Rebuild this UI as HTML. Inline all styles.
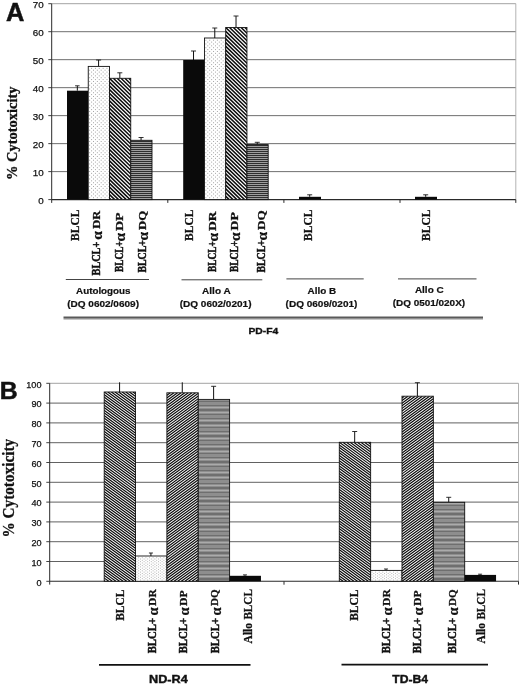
<!DOCTYPE html><html><head><meta charset="utf-8"><title>Cytotoxicity</title>
<style>html,body{margin:0;padding:0;background:#fff}svg{display:block}text{font-family:"Liberation Sans",sans-serif;fill:#111}.s{font-family:"Liberation Serif",serif;font-weight:bold}.b{font-weight:bold}</style></head><body>
<svg width="520" height="684" viewBox="0 0 520 684" style="filter:grayscale(1) blur(0.3px)">
<defs>
</defs>
<rect width="520" height="684" fill="#fff"/>
<line x1="51.7" y1="3.70" x2="515.8" y2="3.70" stroke="#8a8a8a" stroke-width="0.8"/>
<line x1="48.300000000000004" y1="3.70" x2="51.7" y2="3.70" stroke="#2a2a2a" stroke-width="0.9"/>
<text x="43.7" y="7.70" font-size="9.8" text-anchor="end" stroke="#111" stroke-width="0.25">70</text>
<line x1="51.7" y1="31.69" x2="515.8" y2="31.69" stroke="#4a4a4a" stroke-width="0.8"/>
<line x1="48.300000000000004" y1="31.69" x2="51.7" y2="31.69" stroke="#2a2a2a" stroke-width="0.9"/>
<text x="43.7" y="35.69" font-size="9.8" text-anchor="end" stroke="#111" stroke-width="0.25">60</text>
<line x1="51.7" y1="59.67" x2="515.8" y2="59.67" stroke="#4a4a4a" stroke-width="0.8"/>
<line x1="48.300000000000004" y1="59.67" x2="51.7" y2="59.67" stroke="#2a2a2a" stroke-width="0.9"/>
<text x="43.7" y="63.67" font-size="9.8" text-anchor="end" stroke="#111" stroke-width="0.25">50</text>
<line x1="51.7" y1="87.66" x2="515.8" y2="87.66" stroke="#4a4a4a" stroke-width="0.8"/>
<line x1="48.300000000000004" y1="87.66" x2="51.7" y2="87.66" stroke="#2a2a2a" stroke-width="0.9"/>
<text x="43.7" y="91.66" font-size="9.8" text-anchor="end" stroke="#111" stroke-width="0.25">40</text>
<line x1="51.7" y1="115.64" x2="515.8" y2="115.64" stroke="#4a4a4a" stroke-width="0.8"/>
<line x1="48.300000000000004" y1="115.64" x2="51.7" y2="115.64" stroke="#2a2a2a" stroke-width="0.9"/>
<text x="43.7" y="119.64" font-size="9.8" text-anchor="end" stroke="#111" stroke-width="0.25">30</text>
<line x1="51.7" y1="143.63" x2="515.8" y2="143.63" stroke="#4a4a4a" stroke-width="0.8"/>
<line x1="48.300000000000004" y1="143.63" x2="51.7" y2="143.63" stroke="#2a2a2a" stroke-width="0.9"/>
<text x="43.7" y="147.63" font-size="9.8" text-anchor="end" stroke="#111" stroke-width="0.25">20</text>
<line x1="51.7" y1="171.61" x2="515.8" y2="171.61" stroke="#4a4a4a" stroke-width="0.8"/>
<line x1="48.300000000000004" y1="171.61" x2="51.7" y2="171.61" stroke="#2a2a2a" stroke-width="0.9"/>
<text x="43.7" y="175.61" font-size="9.8" text-anchor="end" stroke="#111" stroke-width="0.25">10</text>
<line x1="48.300000000000004" y1="199.60" x2="51.7" y2="199.60" stroke="#2a2a2a" stroke-width="0.9"/>
<text x="43.7" y="203.60" font-size="9.8" text-anchor="end" stroke="#111" stroke-width="0.25">0</text>
<line x1="51.7" y1="3.7" x2="51.7" y2="202.9" stroke="#2a2a2a" stroke-width="1"/>
<line x1="515.8" y1="3.7" x2="515.8" y2="199.6" stroke="#a0a0a0" stroke-width="0.8"/>
<line x1="515.8" y1="199.6" x2="515.8" y2="202.9" stroke="#2a2a2a" stroke-width="1"/>
<line x1="51.7" y1="199.6" x2="515.8" y2="199.6" stroke="#2a2a2a" stroke-width="1.1"/>
<line x1="167.8" y1="199.6" x2="167.8" y2="202.9" stroke="#2a2a2a" stroke-width="1"/>
<line x1="283.9" y1="199.6" x2="283.9" y2="202.9" stroke="#2a2a2a" stroke-width="1"/>
<line x1="400" y1="199.6" x2="400" y2="202.9" stroke="#2a2a2a" stroke-width="1"/>
<line x1="77.33" y1="85.80" x2="77.33" y2="90.70" stroke="#111" stroke-width="1"/>
<line x1="75.08" y1="85.80" x2="79.58" y2="85.80" stroke="#1a1a1a" stroke-width="0.9"/>
<rect x="67.00" y="90.70" width="21.25" height="108.90" fill="#0a0a0a"/>
<line x1="98.58" y1="60.00" x2="98.58" y2="66.40" stroke="#111" stroke-width="1"/>
<line x1="96.08" y1="60.00" x2="101.08" y2="60.00" stroke="#1a1a1a" stroke-width="0.9"/>
<rect x="88.25" y="66.40" width="21.25" height="133.20" fill="#fff"/>
<path d="M89.15,197.72h20.05M89.15,193.97h20.05M89.15,190.22h20.05M89.15,186.47h20.05M89.15,182.72h20.05M89.15,178.97h20.05M89.15,175.22h20.05M89.15,171.47h20.05M89.15,167.72h20.05M89.15,163.97h20.05M89.15,160.22h20.05M89.15,156.47h20.05M89.15,152.72h20.05M89.15,148.97h20.05M89.15,145.22h20.05M89.15,141.47h20.05M89.15,137.72h20.05M89.15,133.97h20.05M89.15,130.22h20.05M89.15,126.47h20.05M89.15,122.72h20.05M89.15,118.97h20.05M89.15,115.22h20.05M89.15,111.47h20.05M89.15,107.72h20.05M89.15,103.97h20.05M89.15,100.22h20.05M89.15,96.47h20.05M89.15,92.72h20.05M89.15,88.97h20.05M89.15,85.22h20.05M89.15,81.47h20.05M89.15,77.72h20.05M89.15,73.97h20.05M89.15,70.22h20.05" stroke="#a4a4a4" stroke-width="1.0" stroke-dasharray="1.0 2.85" fill="none"/>
<path d="M89.15,195.85h20.05M89.15,192.10h20.05M89.15,188.35h20.05M89.15,184.60h20.05M89.15,180.85h20.05M89.15,177.10h20.05M89.15,173.35h20.05M89.15,169.60h20.05M89.15,165.85h20.05M89.15,162.10h20.05M89.15,158.35h20.05M89.15,154.60h20.05M89.15,150.85h20.05M89.15,147.10h20.05M89.15,143.35h20.05M89.15,139.60h20.05M89.15,135.85h20.05M89.15,132.10h20.05M89.15,128.35h20.05M89.15,124.60h20.05M89.15,120.85h20.05M89.15,117.10h20.05M89.15,113.35h20.05M89.15,109.60h20.05M89.15,105.85h20.05M89.15,102.10h20.05M89.15,98.35h20.05M89.15,94.60h20.05M89.15,90.85h20.05M89.15,87.10h20.05M89.15,83.35h20.05M89.15,79.60h20.05M89.15,75.85h20.05M89.15,72.10h20.05M89.15,68.35h20.05" stroke="#a4a4a4" stroke-width="1.0" stroke-dasharray="1.0 2.85" stroke-dashoffset="-1.93" fill="none"/>
<rect x="88.25" y="66.40" width="21.25" height="133.20" fill="none" stroke="#111" stroke-width="0.9"/>
<line x1="119.83" y1="72.80" x2="119.83" y2="78.30" stroke="#111" stroke-width="1"/>
<line x1="117.33" y1="72.80" x2="122.33" y2="72.80" stroke="#1a1a1a" stroke-width="0.9"/>
<clipPath id="c1"><rect x="109.50" y="78.30" width="21.25" height="121.30"/></clipPath>
<rect x="109.50" y="78.30" width="21.25" height="121.30" fill="#fff"/>
<path clip-path="url(#c1)" d="M-21.40,78.30l124.53,121.30M-17.55,78.30l124.53,121.30M-13.70,78.30l124.53,121.30M-9.85,78.30l124.53,121.30M-6.00,78.30l124.53,121.30M-2.15,78.30l124.53,121.30M1.70,78.30l124.53,121.30M5.55,78.30l124.53,121.30M9.40,78.30l124.53,121.30M13.25,78.30l124.53,121.30M17.10,78.30l124.53,121.30M20.95,78.30l124.53,121.30M24.80,78.30l124.53,121.30M28.65,78.30l124.53,121.30M32.50,78.30l124.53,121.30M36.35,78.30l124.53,121.30M40.20,78.30l124.53,121.30M44.05,78.30l124.53,121.30M47.90,78.30l124.53,121.30M51.75,78.30l124.53,121.30M55.60,78.30l124.53,121.30M59.45,78.30l124.53,121.30M63.30,78.30l124.53,121.30M67.15,78.30l124.53,121.30M71.00,78.30l124.53,121.30M74.85,78.30l124.53,121.30M78.70,78.30l124.53,121.30M82.55,78.30l124.53,121.30M86.40,78.30l124.53,121.30M90.25,78.30l124.53,121.30M94.10,78.30l124.53,121.30M97.95,78.30l124.53,121.30M101.80,78.30l124.53,121.30M105.65,78.30l124.53,121.30M109.50,78.30l124.53,121.30M113.35,78.30l124.53,121.30M117.20,78.30l124.53,121.30M121.05,78.30l124.53,121.30M124.90,78.30l124.53,121.30M128.75,78.30l124.53,121.30M132.60,78.30l124.53,121.30M136.45,78.30l124.53,121.30" stroke="#0c0c0c" stroke-width="1.55" fill="none"/>
<rect x="109.50" y="78.30" width="21.25" height="121.30" fill="none" stroke="#111" stroke-width="0.9"/>
<line x1="141.07" y1="137.50" x2="141.07" y2="140.30" stroke="#111" stroke-width="1"/>
<line x1="138.57" y1="137.50" x2="143.57" y2="137.50" stroke="#1a1a1a" stroke-width="0.9"/>
<rect x="130.75" y="140.30" width="21.25" height="59.30" fill="#c4c4c4"/>
<clipPath id="c2"><rect x="130.75" y="140.30" width="21.25" height="59.30"/></clipPath>
<line clip-path="url(#c2)" x1="141.38" y1="200" x2="141.38" y2="138.30" stroke="#2e2e2e" stroke-width="21.25" stroke-dasharray="1.2 0.80"/>
<rect x="130.75" y="140.30" width="21.25" height="59.30" fill="none" stroke="#111" stroke-width="0.9"/>
<line x1="193.52" y1="51.00" x2="193.52" y2="60.00" stroke="#111" stroke-width="1"/>
<line x1="191.02" y1="51.00" x2="196.02" y2="51.00" stroke="#1a1a1a" stroke-width="0.9"/>
<rect x="183.20" y="60.00" width="21.25" height="139.60" fill="#0a0a0a"/>
<line x1="214.77" y1="28.00" x2="214.77" y2="38.00" stroke="#111" stroke-width="1"/>
<line x1="212.27" y1="28.00" x2="217.27" y2="28.00" stroke="#1a1a1a" stroke-width="0.9"/>
<rect x="204.45" y="38.00" width="21.25" height="161.60" fill="#fff"/>
<path d="M205.35,197.72h20.05M205.35,193.97h20.05M205.35,190.22h20.05M205.35,186.47h20.05M205.35,182.72h20.05M205.35,178.97h20.05M205.35,175.22h20.05M205.35,171.47h20.05M205.35,167.72h20.05M205.35,163.97h20.05M205.35,160.22h20.05M205.35,156.47h20.05M205.35,152.72h20.05M205.35,148.97h20.05M205.35,145.22h20.05M205.35,141.47h20.05M205.35,137.72h20.05M205.35,133.97h20.05M205.35,130.22h20.05M205.35,126.47h20.05M205.35,122.72h20.05M205.35,118.97h20.05M205.35,115.22h20.05M205.35,111.47h20.05M205.35,107.72h20.05M205.35,103.97h20.05M205.35,100.22h20.05M205.35,96.47h20.05M205.35,92.72h20.05M205.35,88.97h20.05M205.35,85.22h20.05M205.35,81.47h20.05M205.35,77.72h20.05M205.35,73.97h20.05M205.35,70.22h20.05M205.35,66.47h20.05M205.35,62.72h20.05M205.35,58.97h20.05M205.35,55.22h20.05M205.35,51.47h20.05M205.35,47.72h20.05M205.35,43.97h20.05M205.35,40.22h20.05" stroke="#a4a4a4" stroke-width="1.0" stroke-dasharray="1.0 2.85" fill="none"/>
<path d="M205.35,195.85h20.05M205.35,192.10h20.05M205.35,188.35h20.05M205.35,184.60h20.05M205.35,180.85h20.05M205.35,177.10h20.05M205.35,173.35h20.05M205.35,169.60h20.05M205.35,165.85h20.05M205.35,162.10h20.05M205.35,158.35h20.05M205.35,154.60h20.05M205.35,150.85h20.05M205.35,147.10h20.05M205.35,143.35h20.05M205.35,139.60h20.05M205.35,135.85h20.05M205.35,132.10h20.05M205.35,128.35h20.05M205.35,124.60h20.05M205.35,120.85h20.05M205.35,117.10h20.05M205.35,113.35h20.05M205.35,109.60h20.05M205.35,105.85h20.05M205.35,102.10h20.05M205.35,98.35h20.05M205.35,94.60h20.05M205.35,90.85h20.05M205.35,87.10h20.05M205.35,83.35h20.05M205.35,79.60h20.05M205.35,75.85h20.05M205.35,72.10h20.05M205.35,68.35h20.05M205.35,64.60h20.05M205.35,60.85h20.05M205.35,57.10h20.05M205.35,53.35h20.05M205.35,49.60h20.05M205.35,45.85h20.05M205.35,42.10h20.05" stroke="#a4a4a4" stroke-width="1.0" stroke-dasharray="1.0 2.85" stroke-dashoffset="-1.93" fill="none"/>
<rect x="204.45" y="38.00" width="21.25" height="161.60" fill="none" stroke="#111" stroke-width="0.9"/>
<line x1="236.02" y1="16.00" x2="236.02" y2="27.50" stroke="#111" stroke-width="1"/>
<line x1="233.52" y1="16.00" x2="238.52" y2="16.00" stroke="#1a1a1a" stroke-width="0.9"/>
<clipPath id="c3"><rect x="225.70" y="27.50" width="21.25" height="172.10"/></clipPath>
<rect x="225.70" y="27.50" width="21.25" height="172.10" fill="#fff"/>
<path clip-path="url(#c3)" d="M44.75,27.50l176.69,172.10M48.60,27.50l176.69,172.10M52.45,27.50l176.69,172.10M56.30,27.50l176.69,172.10M60.15,27.50l176.69,172.10M64.00,27.50l176.69,172.10M67.85,27.50l176.69,172.10M71.70,27.50l176.69,172.10M75.55,27.50l176.69,172.10M79.40,27.50l176.69,172.10M83.25,27.50l176.69,172.10M87.10,27.50l176.69,172.10M90.95,27.50l176.69,172.10M94.80,27.50l176.69,172.10M98.65,27.50l176.69,172.10M102.50,27.50l176.69,172.10M106.35,27.50l176.69,172.10M110.20,27.50l176.69,172.10M114.05,27.50l176.69,172.10M117.90,27.50l176.69,172.10M121.75,27.50l176.69,172.10M125.60,27.50l176.69,172.10M129.45,27.50l176.69,172.10M133.30,27.50l176.69,172.10M137.15,27.50l176.69,172.10M141.00,27.50l176.69,172.10M144.85,27.50l176.69,172.10M148.70,27.50l176.69,172.10M152.55,27.50l176.69,172.10M156.40,27.50l176.69,172.10M160.25,27.50l176.69,172.10M164.10,27.50l176.69,172.10M167.95,27.50l176.69,172.10M171.80,27.50l176.69,172.10M175.65,27.50l176.69,172.10M179.50,27.50l176.69,172.10M183.35,27.50l176.69,172.10M187.20,27.50l176.69,172.10M191.05,27.50l176.69,172.10M194.90,27.50l176.69,172.10M198.75,27.50l176.69,172.10M202.60,27.50l176.69,172.10M206.45,27.50l176.69,172.10M210.30,27.50l176.69,172.10M214.15,27.50l176.69,172.10M218.00,27.50l176.69,172.10M221.85,27.50l176.69,172.10M225.70,27.50l176.69,172.10M229.55,27.50l176.69,172.10M233.40,27.50l176.69,172.10M237.25,27.50l176.69,172.10M241.10,27.50l176.69,172.10M244.95,27.50l176.69,172.10M248.80,27.50l176.69,172.10M252.65,27.50l176.69,172.10" stroke="#0c0c0c" stroke-width="1.55" fill="none"/>
<rect x="225.70" y="27.50" width="21.25" height="172.10" fill="none" stroke="#111" stroke-width="0.9"/>
<line x1="257.27" y1="142.30" x2="257.27" y2="144.60" stroke="#111" stroke-width="1"/>
<line x1="254.77" y1="142.30" x2="259.77" y2="142.30" stroke="#1a1a1a" stroke-width="0.9"/>
<rect x="246.95" y="144.60" width="21.25" height="55.00" fill="#c4c4c4"/>
<clipPath id="c4"><rect x="246.95" y="144.60" width="21.25" height="55.00"/></clipPath>
<line clip-path="url(#c4)" x1="257.57" y1="200" x2="257.57" y2="142.60" stroke="#2e2e2e" stroke-width="21.25" stroke-dasharray="1.2 0.80"/>
<rect x="246.95" y="144.60" width="21.25" height="55.00" fill="none" stroke="#111" stroke-width="0.9"/>
<line x1="309.70" y1="194.80" x2="309.70" y2="196.80" stroke="#111" stroke-width="1"/>
<line x1="307.20" y1="194.80" x2="312.20" y2="194.80" stroke="#1a1a1a" stroke-width="0.9"/>
<rect x="299.00" y="196.80" width="22.00" height="2.80" fill="#0a0a0a"/>
<line x1="425.70" y1="194.80" x2="425.70" y2="196.80" stroke="#111" stroke-width="1"/>
<line x1="423.20" y1="194.80" x2="428.20" y2="194.80" stroke="#1a1a1a" stroke-width="0.9"/>
<rect x="415.00" y="196.80" width="22.00" height="2.80" fill="#0a0a0a"/>
<text class="b" x="6.0" y="20.6" font-size="25.4" stroke="#111" stroke-width="0.5">A</text>
<text class="s" transform="translate(16.8,180) rotate(-90)" font-size="14.5" textLength="93.5" lengthAdjust="spacingAndGlyphs" stroke="#111" stroke-width="0.3">% Cytotoxicity</text>
<text class="s" transform="translate(79.4,241.0) rotate(-90)" font-size="12.8" textLength="31.4" lengthAdjust="spacingAndGlyphs" stroke="#111" stroke-width="0.3">BLCL</text>
<text class="s" transform="translate(100.40,275.40) rotate(-90)" font-size="13" textLength="33.6" lengthAdjust="spacingAndGlyphs" stroke="#111" stroke-width="0.5">BLCL+</text>
<text class="s" transform="translate(102.40,239.80) rotate(-90)" font-size="15.5" stroke="#111" stroke-width="0.25">α</text>
<text class="s" transform="translate(100.20,228.80) rotate(-90)" font-size="11.2" textLength="18.0" lengthAdjust="spacingAndGlyphs" stroke="#111" stroke-width="0.3">DR</text>
<text class="s" transform="translate(123.40,272.10) rotate(-90)" font-size="13" textLength="30.9" lengthAdjust="spacingAndGlyphs" stroke="#111" stroke-width="0.5">BLCL+</text>
<text class="s" transform="translate(124.90,241.50) rotate(-90)" font-size="15.5" stroke="#111" stroke-width="0.25">α</text>
<text class="s" transform="translate(122.80,231.00) rotate(-90)" font-size="11.2" textLength="18.6" lengthAdjust="spacingAndGlyphs" stroke="#111" stroke-width="0.3">DP</text>
<text class="s" transform="translate(146.40,272.60) rotate(-90)" font-size="13" textLength="32.6" lengthAdjust="spacingAndGlyphs" stroke="#111" stroke-width="0.5">BLCL+</text>
<text class="s" transform="translate(148.40,240.40) rotate(-90)" font-size="15.5" stroke="#111" stroke-width="0.25">α</text>
<text class="s" transform="translate(145.80,229.90) rotate(-90)" font-size="11.2" textLength="19.0" lengthAdjust="spacingAndGlyphs" stroke="#111" stroke-width="0.3">DQ</text>
<text class="s" transform="translate(192.5,241.0) rotate(-90)" font-size="12.8" textLength="31.4" lengthAdjust="spacingAndGlyphs" stroke="#111" stroke-width="0.3">BLCL</text>
<text class="s" transform="translate(216.40,272.10) rotate(-90)" font-size="13" textLength="30.9" lengthAdjust="spacingAndGlyphs" stroke="#111" stroke-width="0.5">BLCL+</text>
<text class="s" transform="translate(218.00,241.50) rotate(-90)" font-size="15.5" stroke="#111" stroke-width="0.25">α</text>
<text class="s" transform="translate(216.30,231.00) rotate(-90)" font-size="11.2" textLength="19.6" lengthAdjust="spacingAndGlyphs" stroke="#111" stroke-width="0.3">DR</text>
<text class="s" transform="translate(238.40,272.10) rotate(-90)" font-size="13" textLength="31.4" lengthAdjust="spacingAndGlyphs" stroke="#111" stroke-width="0.5">BLCL+</text>
<text class="s" transform="translate(240.00,241.00) rotate(-90)" font-size="15.5" stroke="#111" stroke-width="0.25">α</text>
<text class="s" transform="translate(237.80,230.40) rotate(-90)" font-size="11.2" textLength="18.2" lengthAdjust="spacingAndGlyphs" stroke="#111" stroke-width="0.3">DP</text>
<text class="s" transform="translate(265.00,272.60) rotate(-90)" font-size="13" textLength="32.6" lengthAdjust="spacingAndGlyphs" stroke="#111" stroke-width="0.5">BLCL+</text>
<text class="s" transform="translate(266.70,240.40) rotate(-90)" font-size="15.5" stroke="#111" stroke-width="0.25">α</text>
<text class="s" transform="translate(264.60,229.90) rotate(-90)" font-size="11.2" textLength="19.6" lengthAdjust="spacingAndGlyphs" stroke="#111" stroke-width="0.3">DQ</text>
<text class="s" transform="translate(312.2,241.0) rotate(-90)" font-size="12.8" textLength="31.4" lengthAdjust="spacingAndGlyphs" stroke="#111" stroke-width="0.3">BLCL</text>
<text class="s" transform="translate(430.0,241.0) rotate(-90)" font-size="12.8" textLength="31.4" lengthAdjust="spacingAndGlyphs" stroke="#111" stroke-width="0.3">BLCL</text>
<line x1="65.8" y1="279.5" x2="149" y2="279.5" stroke="#3a3a3a" stroke-width="0.95"/>
<line x1="181.5" y1="279.8" x2="262.3" y2="279.8" stroke="#3a3a3a" stroke-width="0.95"/>
<line x1="286.4" y1="278.9" x2="363.7" y2="278.9" stroke="#3a3a3a" stroke-width="0.95"/>
<line x1="398" y1="278.9" x2="476.5" y2="278.9" stroke="#3a3a3a" stroke-width="0.95"/>
<text class="b" x="103.3" y="293.5" font-size="9.2" text-anchor="middle" stroke="#111" stroke-width="0.2" textLength="54.5" lengthAdjust="spacingAndGlyphs">Autologous</text>
<text class="b" x="103.1" y="306.8" font-size="9.3" text-anchor="middle" stroke="#111" stroke-width="0.2" textLength="71.8" lengthAdjust="spacingAndGlyphs">(DQ 0602/0609)</text>
<text class="b" x="216.4" y="293.7" font-size="9.2" text-anchor="middle" stroke="#111" stroke-width="0.2" textLength="28.6" lengthAdjust="spacingAndGlyphs">Allo A</text>
<text class="b" x="215.6" y="306.7" font-size="9.3" text-anchor="middle" stroke="#111" stroke-width="0.2" textLength="71.8" lengthAdjust="spacingAndGlyphs">(DQ 0602/0201)</text>
<text class="b" x="321.9" y="293.5" font-size="9.2" text-anchor="middle" stroke="#111" stroke-width="0.2" textLength="28.6" lengthAdjust="spacingAndGlyphs">Allo B</text>
<text class="b" x="321.5" y="306.5" font-size="9.3" text-anchor="middle" stroke="#111" stroke-width="0.2" textLength="71.8" lengthAdjust="spacingAndGlyphs">(DQ 0609/0201)</text>
<text class="b" x="429.3" y="293.2" font-size="9.2" text-anchor="middle" stroke="#111" stroke-width="0.2" textLength="28.8" lengthAdjust="spacingAndGlyphs">Allo C</text>
<text class="b" x="428.9" y="306.3" font-size="9.3" text-anchor="middle" stroke="#111" stroke-width="0.2" textLength="72.4" lengthAdjust="spacingAndGlyphs">(DQ 0501/020X)</text>
<line x1="63.5" y1="317.2" x2="483" y2="317.2" stroke="#5a5a5a" stroke-width="1.4"/>
<line x1="63.5" y1="318.7" x2="483" y2="318.7" stroke="#909090" stroke-width="1.6"/>
<text class="b" x="263.3" y="333.8" font-size="9.7" text-anchor="middle" stroke="#111" stroke-width="0.35" textLength="29.8" lengthAdjust="spacingAndGlyphs">PD-F4</text>
<line x1="49.7" y1="383.30" x2="518.5" y2="383.30" stroke="#8a8a8a" stroke-width="0.8"/>
<line x1="46.300000000000004" y1="383.30" x2="49.7" y2="383.30" stroke="#2a2a2a" stroke-width="0.9"/>
<text x="41.5" y="387.60" font-size="9.1" text-anchor="end" stroke="#111" stroke-width="0.25">100</text>
<line x1="49.7" y1="403.10" x2="518.5" y2="403.10" stroke="#383838" stroke-width="0.8"/>
<line x1="46.300000000000004" y1="403.10" x2="49.7" y2="403.10" stroke="#2a2a2a" stroke-width="0.9"/>
<text x="41.5" y="407.40" font-size="9.1" text-anchor="end" stroke="#111" stroke-width="0.25">90</text>
<line x1="49.7" y1="422.90" x2="518.5" y2="422.90" stroke="#383838" stroke-width="0.8"/>
<line x1="46.300000000000004" y1="422.90" x2="49.7" y2="422.90" stroke="#2a2a2a" stroke-width="0.9"/>
<text x="41.5" y="427.20" font-size="9.1" text-anchor="end" stroke="#111" stroke-width="0.25">80</text>
<line x1="49.7" y1="442.70" x2="518.5" y2="442.70" stroke="#383838" stroke-width="0.8"/>
<line x1="46.300000000000004" y1="442.70" x2="49.7" y2="442.70" stroke="#2a2a2a" stroke-width="0.9"/>
<text x="41.5" y="447.00" font-size="9.1" text-anchor="end" stroke="#111" stroke-width="0.25">70</text>
<line x1="49.7" y1="462.50" x2="518.5" y2="462.50" stroke="#383838" stroke-width="0.8"/>
<line x1="46.300000000000004" y1="462.50" x2="49.7" y2="462.50" stroke="#2a2a2a" stroke-width="0.9"/>
<text x="41.5" y="466.80" font-size="9.1" text-anchor="end" stroke="#111" stroke-width="0.25">60</text>
<line x1="49.7" y1="482.30" x2="518.5" y2="482.30" stroke="#383838" stroke-width="0.8"/>
<line x1="46.300000000000004" y1="482.30" x2="49.7" y2="482.30" stroke="#2a2a2a" stroke-width="0.9"/>
<text x="41.5" y="486.60" font-size="9.1" text-anchor="end" stroke="#111" stroke-width="0.25">50</text>
<line x1="49.7" y1="502.10" x2="518.5" y2="502.10" stroke="#383838" stroke-width="0.8"/>
<line x1="46.300000000000004" y1="502.10" x2="49.7" y2="502.10" stroke="#2a2a2a" stroke-width="0.9"/>
<text x="41.5" y="506.40" font-size="9.1" text-anchor="end" stroke="#111" stroke-width="0.25">40</text>
<line x1="49.7" y1="521.90" x2="518.5" y2="521.90" stroke="#383838" stroke-width="0.8"/>
<line x1="46.300000000000004" y1="521.90" x2="49.7" y2="521.90" stroke="#2a2a2a" stroke-width="0.9"/>
<text x="41.5" y="526.20" font-size="9.1" text-anchor="end" stroke="#111" stroke-width="0.25">30</text>
<line x1="49.7" y1="541.70" x2="518.5" y2="541.70" stroke="#383838" stroke-width="0.8"/>
<line x1="46.300000000000004" y1="541.70" x2="49.7" y2="541.70" stroke="#2a2a2a" stroke-width="0.9"/>
<text x="41.5" y="546.00" font-size="9.1" text-anchor="end" stroke="#111" stroke-width="0.25">20</text>
<line x1="49.7" y1="561.50" x2="518.5" y2="561.50" stroke="#383838" stroke-width="0.8"/>
<line x1="46.300000000000004" y1="561.50" x2="49.7" y2="561.50" stroke="#2a2a2a" stroke-width="0.9"/>
<text x="41.5" y="565.80" font-size="9.1" text-anchor="end" stroke="#111" stroke-width="0.25">10</text>
<line x1="46.300000000000004" y1="581.30" x2="49.7" y2="581.30" stroke="#2a2a2a" stroke-width="0.9"/>
<text x="41.5" y="585.60" font-size="9.1" text-anchor="end" stroke="#111" stroke-width="0.25">0</text>
<line x1="49.7" y1="383.3" x2="49.7" y2="584.5999999999999" stroke="#2a2a2a" stroke-width="1"/>
<line x1="518.5" y1="383.3" x2="518.5" y2="581.3" stroke="#a0a0a0" stroke-width="0.8"/>
<line x1="518.5" y1="581.3" x2="518.5" y2="584.5999999999999" stroke="#2a2a2a" stroke-width="1"/>
<line x1="49.7" y1="581.3" x2="518.5" y2="581.3" stroke="#2a2a2a" stroke-width="1.1"/>
<line x1="284" y1="581.3" x2="284" y2="584.6999999999999" stroke="#2a2a2a" stroke-width="1"/>
<line x1="119.58" y1="382.30" x2="119.58" y2="392.00" stroke="#111" stroke-width="1"/>
<clipPath id="c5"><rect x="104.20" y="392.00" width="31.35" height="189.30"/></clipPath>
<rect x="104.20" y="392.00" width="31.35" height="189.30" fill="#fff"/>
<path clip-path="url(#c5)" d="M-162.20,392.00l260.11,189.30M-158.60,392.00l260.11,189.30M-155.00,392.00l260.11,189.30M-151.40,392.00l260.11,189.30M-147.80,392.00l260.11,189.30M-144.20,392.00l260.11,189.30M-140.60,392.00l260.11,189.30M-137.00,392.00l260.11,189.30M-133.40,392.00l260.11,189.30M-129.80,392.00l260.11,189.30M-126.20,392.00l260.11,189.30M-122.60,392.00l260.11,189.30M-119.00,392.00l260.11,189.30M-115.40,392.00l260.11,189.30M-111.80,392.00l260.11,189.30M-108.20,392.00l260.11,189.30M-104.60,392.00l260.11,189.30M-101.00,392.00l260.11,189.30M-97.40,392.00l260.11,189.30M-93.80,392.00l260.11,189.30M-90.20,392.00l260.11,189.30M-86.60,392.00l260.11,189.30M-83.00,392.00l260.11,189.30M-79.40,392.00l260.11,189.30M-75.80,392.00l260.11,189.30M-72.20,392.00l260.11,189.30M-68.60,392.00l260.11,189.30M-65.00,392.00l260.11,189.30M-61.40,392.00l260.11,189.30M-57.80,392.00l260.11,189.30M-54.20,392.00l260.11,189.30M-50.60,392.00l260.11,189.30M-47.00,392.00l260.11,189.30M-43.40,392.00l260.11,189.30M-39.80,392.00l260.11,189.30M-36.20,392.00l260.11,189.30M-32.60,392.00l260.11,189.30M-29.00,392.00l260.11,189.30M-25.40,392.00l260.11,189.30M-21.80,392.00l260.11,189.30M-18.20,392.00l260.11,189.30M-14.60,392.00l260.11,189.30M-11.00,392.00l260.11,189.30M-7.40,392.00l260.11,189.30M-3.80,392.00l260.11,189.30M-0.20,392.00l260.11,189.30M3.40,392.00l260.11,189.30M7.00,392.00l260.11,189.30M10.60,392.00l260.11,189.30M14.20,392.00l260.11,189.30M17.80,392.00l260.11,189.30M21.40,392.00l260.11,189.30M25.00,392.00l260.11,189.30M28.60,392.00l260.11,189.30M32.20,392.00l260.11,189.30M35.80,392.00l260.11,189.30M39.40,392.00l260.11,189.30M43.00,392.00l260.11,189.30M46.60,392.00l260.11,189.30M50.20,392.00l260.11,189.30M53.80,392.00l260.11,189.30M57.40,392.00l260.11,189.30M61.00,392.00l260.11,189.30M64.60,392.00l260.11,189.30M68.20,392.00l260.11,189.30M71.80,392.00l260.11,189.30M75.40,392.00l260.11,189.30M79.00,392.00l260.11,189.30M82.60,392.00l260.11,189.30M86.20,392.00l260.11,189.30M89.80,392.00l260.11,189.30M93.40,392.00l260.11,189.30M97.00,392.00l260.11,189.30M100.60,392.00l260.11,189.30M104.20,392.00l260.11,189.30M107.80,392.00l260.11,189.30M111.40,392.00l260.11,189.30M115.00,392.00l260.11,189.30M118.60,392.00l260.11,189.30M122.20,392.00l260.11,189.30M125.80,392.00l260.11,189.30M129.40,392.00l260.11,189.30M133.00,392.00l260.11,189.30M136.60,392.00l260.11,189.30M140.20,392.00l260.11,189.30" stroke="#0c0c0c" stroke-width="1.2" fill="none"/>
<rect x="104.20" y="392.00" width="31.35" height="189.30" fill="none" stroke="#111" stroke-width="0.9"/>
<line x1="150.93" y1="553.00" x2="150.93" y2="556.00" stroke="#111" stroke-width="1"/>
<line x1="148.93" y1="553.00" x2="152.93" y2="553.00" stroke="#1a1a1a" stroke-width="0.9"/>
<rect x="135.55" y="556.00" width="31.35" height="25.30" fill="#fff"/>
<path d="M136.45,579.99h30.15M136.45,577.37h30.15M136.45,574.75h30.15M136.45,572.13h30.15M136.45,569.51h30.15M136.45,566.89h30.15M136.45,564.27h30.15M136.45,561.65h30.15M136.45,559.03h30.15" stroke="#a8a8a8" stroke-width="0.9" stroke-dasharray="0.9 2.70" fill="none"/>
<path d="M136.45,578.68h30.15M136.45,576.06h30.15M136.45,573.44h30.15M136.45,570.82h30.15M136.45,568.20h30.15M136.45,565.58h30.15M136.45,562.96h30.15M136.45,560.34h30.15M136.45,557.72h30.15" stroke="#a8a8a8" stroke-width="0.9" stroke-dasharray="0.9 2.70" stroke-dashoffset="-1.80" fill="none"/>
<rect x="135.55" y="556.00" width="31.35" height="25.30" fill="none" stroke="#111" stroke-width="0.9"/>
<line x1="182.28" y1="382.30" x2="182.28" y2="392.80" stroke="#111" stroke-width="1"/>
<clipPath id="c6"><rect x="166.90" y="392.80" width="31.35" height="188.50"/></clipPath>
<rect x="166.90" y="392.80" width="31.35" height="188.50" fill="#fff"/>
<path clip-path="url(#c6)" d="M-95.90,581.30l259.01,-188.50M-92.30,581.30l259.01,-188.50M-88.70,581.30l259.01,-188.50M-85.10,581.30l259.01,-188.50M-81.50,581.30l259.01,-188.50M-77.90,581.30l259.01,-188.50M-74.30,581.30l259.01,-188.50M-70.70,581.30l259.01,-188.50M-67.10,581.30l259.01,-188.50M-63.50,581.30l259.01,-188.50M-59.90,581.30l259.01,-188.50M-56.30,581.30l259.01,-188.50M-52.70,581.30l259.01,-188.50M-49.10,581.30l259.01,-188.50M-45.50,581.30l259.01,-188.50M-41.90,581.30l259.01,-188.50M-38.30,581.30l259.01,-188.50M-34.70,581.30l259.01,-188.50M-31.10,581.30l259.01,-188.50M-27.50,581.30l259.01,-188.50M-23.90,581.30l259.01,-188.50M-20.30,581.30l259.01,-188.50M-16.70,581.30l259.01,-188.50M-13.10,581.30l259.01,-188.50M-9.50,581.30l259.01,-188.50M-5.90,581.30l259.01,-188.50M-2.30,581.30l259.01,-188.50M1.30,581.30l259.01,-188.50M4.90,581.30l259.01,-188.50M8.50,581.30l259.01,-188.50M12.10,581.30l259.01,-188.50M15.70,581.30l259.01,-188.50M19.30,581.30l259.01,-188.50M22.90,581.30l259.01,-188.50M26.50,581.30l259.01,-188.50M30.10,581.30l259.01,-188.50M33.70,581.30l259.01,-188.50M37.30,581.30l259.01,-188.50M40.90,581.30l259.01,-188.50M44.50,581.30l259.01,-188.50M48.10,581.30l259.01,-188.50M51.70,581.30l259.01,-188.50M55.30,581.30l259.01,-188.50M58.90,581.30l259.01,-188.50M62.50,581.30l259.01,-188.50M66.10,581.30l259.01,-188.50M69.70,581.30l259.01,-188.50M73.30,581.30l259.01,-188.50M76.90,581.30l259.01,-188.50M80.50,581.30l259.01,-188.50M84.10,581.30l259.01,-188.50M87.70,581.30l259.01,-188.50M91.30,581.30l259.01,-188.50M94.90,581.30l259.01,-188.50M98.50,581.30l259.01,-188.50M102.10,581.30l259.01,-188.50M105.70,581.30l259.01,-188.50M109.30,581.30l259.01,-188.50M112.90,581.30l259.01,-188.50M116.50,581.30l259.01,-188.50M120.10,581.30l259.01,-188.50M123.70,581.30l259.01,-188.50M127.30,581.30l259.01,-188.50M130.90,581.30l259.01,-188.50M134.50,581.30l259.01,-188.50M138.10,581.30l259.01,-188.50M141.70,581.30l259.01,-188.50M145.30,581.30l259.01,-188.50M148.90,581.30l259.01,-188.50M152.50,581.30l259.01,-188.50M156.10,581.30l259.01,-188.50M159.70,581.30l259.01,-188.50M163.30,581.30l259.01,-188.50M166.90,581.30l259.01,-188.50M170.50,581.30l259.01,-188.50M174.10,581.30l259.01,-188.50M177.70,581.30l259.01,-188.50M181.30,581.30l259.01,-188.50M184.90,581.30l259.01,-188.50M188.50,581.30l259.01,-188.50M192.10,581.30l259.01,-188.50M195.70,581.30l259.01,-188.50M199.30,581.30l259.01,-188.50M202.90,581.30l259.01,-188.50" stroke="#0c0c0c" stroke-width="1.2" fill="none"/>
<rect x="166.90" y="392.80" width="31.35" height="188.50" fill="none" stroke="#111" stroke-width="0.9"/>
<line x1="213.62" y1="386.30" x2="213.62" y2="399.40" stroke="#111" stroke-width="1"/>
<line x1="211.12" y1="386.30" x2="216.12" y2="386.30" stroke="#1a1a1a" stroke-width="0.9"/>
<rect x="198.25" y="399.40" width="31.35" height="181.90" fill="#cacaca"/>
<line x1="213.93" y1="581.30" x2="213.93" y2="399.40" stroke="#525252" stroke-width="31.35" stroke-dasharray="0.72 0.58"/>
<rect x="198.25" y="399.40" width="31.35" height="181.90" fill="none" stroke="#111" stroke-width="0.9"/>
<line x1="244.98" y1="574.90" x2="244.98" y2="575.80" stroke="#111" stroke-width="1"/>
<line x1="242.98" y1="574.90" x2="246.98" y2="574.90" stroke="#1a1a1a" stroke-width="0.9"/>
<rect x="229.60" y="575.80" width="31.35" height="5.50" fill="#0a0a0a"/>
<line x1="354.68" y1="431.50" x2="354.68" y2="442.30" stroke="#111" stroke-width="1"/>
<line x1="352.18" y1="431.50" x2="357.18" y2="431.50" stroke="#1a1a1a" stroke-width="0.9"/>
<clipPath id="c7"><rect x="339.30" y="442.30" width="31.35" height="139.00"/></clipPath>
<rect x="339.30" y="442.30" width="31.35" height="139.00" fill="#fff"/>
<path clip-path="url(#c7)" d="M141.30,442.30l190.99,139.00M144.90,442.30l190.99,139.00M148.50,442.30l190.99,139.00M152.10,442.30l190.99,139.00M155.70,442.30l190.99,139.00M159.30,442.30l190.99,139.00M162.90,442.30l190.99,139.00M166.50,442.30l190.99,139.00M170.10,442.30l190.99,139.00M173.70,442.30l190.99,139.00M177.30,442.30l190.99,139.00M180.90,442.30l190.99,139.00M184.50,442.30l190.99,139.00M188.10,442.30l190.99,139.00M191.70,442.30l190.99,139.00M195.30,442.30l190.99,139.00M198.90,442.30l190.99,139.00M202.50,442.30l190.99,139.00M206.10,442.30l190.99,139.00M209.70,442.30l190.99,139.00M213.30,442.30l190.99,139.00M216.90,442.30l190.99,139.00M220.50,442.30l190.99,139.00M224.10,442.30l190.99,139.00M227.70,442.30l190.99,139.00M231.30,442.30l190.99,139.00M234.90,442.30l190.99,139.00M238.50,442.30l190.99,139.00M242.10,442.30l190.99,139.00M245.70,442.30l190.99,139.00M249.30,442.30l190.99,139.00M252.90,442.30l190.99,139.00M256.50,442.30l190.99,139.00M260.10,442.30l190.99,139.00M263.70,442.30l190.99,139.00M267.30,442.30l190.99,139.00M270.90,442.30l190.99,139.00M274.50,442.30l190.99,139.00M278.10,442.30l190.99,139.00M281.70,442.30l190.99,139.00M285.30,442.30l190.99,139.00M288.90,442.30l190.99,139.00M292.50,442.30l190.99,139.00M296.10,442.30l190.99,139.00M299.70,442.30l190.99,139.00M303.30,442.30l190.99,139.00M306.90,442.30l190.99,139.00M310.50,442.30l190.99,139.00M314.10,442.30l190.99,139.00M317.70,442.30l190.99,139.00M321.30,442.30l190.99,139.00M324.90,442.30l190.99,139.00M328.50,442.30l190.99,139.00M332.10,442.30l190.99,139.00M335.70,442.30l190.99,139.00M339.30,442.30l190.99,139.00M342.90,442.30l190.99,139.00M346.50,442.30l190.99,139.00M350.10,442.30l190.99,139.00M353.70,442.30l190.99,139.00M357.30,442.30l190.99,139.00M360.90,442.30l190.99,139.00M364.50,442.30l190.99,139.00M368.10,442.30l190.99,139.00M371.70,442.30l190.99,139.00M375.30,442.30l190.99,139.00" stroke="#0c0c0c" stroke-width="1.2" fill="none"/>
<rect x="339.30" y="442.30" width="31.35" height="139.00" fill="none" stroke="#111" stroke-width="0.9"/>
<line x1="386.03" y1="569.00" x2="386.03" y2="570.40" stroke="#111" stroke-width="1"/>
<line x1="384.03" y1="569.00" x2="388.03" y2="569.00" stroke="#1a1a1a" stroke-width="0.9"/>
<rect x="370.65" y="570.40" width="31.35" height="10.90" fill="#fff"/>
<path d="M371.55,579.99h30.15M371.55,577.37h30.15M371.55,574.75h30.15M371.55,572.13h30.15" stroke="#a8a8a8" stroke-width="0.9" stroke-dasharray="0.9 2.70" fill="none"/>
<path d="M371.55,578.68h30.15M371.55,576.06h30.15M371.55,573.44h30.15" stroke="#a8a8a8" stroke-width="0.9" stroke-dasharray="0.9 2.70" stroke-dashoffset="-1.80" fill="none"/>
<rect x="370.65" y="570.40" width="31.35" height="10.90" fill="none" stroke="#111" stroke-width="0.9"/>
<line x1="417.38" y1="382.70" x2="417.38" y2="396.20" stroke="#111" stroke-width="1"/>
<line x1="414.88" y1="382.70" x2="419.88" y2="382.70" stroke="#1a1a1a" stroke-width="0.9"/>
<clipPath id="c8"><rect x="402.00" y="396.20" width="31.35" height="185.10"/></clipPath>
<rect x="402.00" y="396.20" width="31.35" height="185.10" fill="#fff"/>
<path clip-path="url(#c8)" d="M142.80,581.30l254.34,-185.10M146.40,581.30l254.34,-185.10M150.00,581.30l254.34,-185.10M153.60,581.30l254.34,-185.10M157.20,581.30l254.34,-185.10M160.80,581.30l254.34,-185.10M164.40,581.30l254.34,-185.10M168.00,581.30l254.34,-185.10M171.60,581.30l254.34,-185.10M175.20,581.30l254.34,-185.10M178.80,581.30l254.34,-185.10M182.40,581.30l254.34,-185.10M186.00,581.30l254.34,-185.10M189.60,581.30l254.34,-185.10M193.20,581.30l254.34,-185.10M196.80,581.30l254.34,-185.10M200.40,581.30l254.34,-185.10M204.00,581.30l254.34,-185.10M207.60,581.30l254.34,-185.10M211.20,581.30l254.34,-185.10M214.80,581.30l254.34,-185.10M218.40,581.30l254.34,-185.10M222.00,581.30l254.34,-185.10M225.60,581.30l254.34,-185.10M229.20,581.30l254.34,-185.10M232.80,581.30l254.34,-185.10M236.40,581.30l254.34,-185.10M240.00,581.30l254.34,-185.10M243.60,581.30l254.34,-185.10M247.20,581.30l254.34,-185.10M250.80,581.30l254.34,-185.10M254.40,581.30l254.34,-185.10M258.00,581.30l254.34,-185.10M261.60,581.30l254.34,-185.10M265.20,581.30l254.34,-185.10M268.80,581.30l254.34,-185.10M272.40,581.30l254.34,-185.10M276.00,581.30l254.34,-185.10M279.60,581.30l254.34,-185.10M283.20,581.30l254.34,-185.10M286.80,581.30l254.34,-185.10M290.40,581.30l254.34,-185.10M294.00,581.30l254.34,-185.10M297.60,581.30l254.34,-185.10M301.20,581.30l254.34,-185.10M304.80,581.30l254.34,-185.10M308.40,581.30l254.34,-185.10M312.00,581.30l254.34,-185.10M315.60,581.30l254.34,-185.10M319.20,581.30l254.34,-185.10M322.80,581.30l254.34,-185.10M326.40,581.30l254.34,-185.10M330.00,581.30l254.34,-185.10M333.60,581.30l254.34,-185.10M337.20,581.30l254.34,-185.10M340.80,581.30l254.34,-185.10M344.40,581.30l254.34,-185.10M348.00,581.30l254.34,-185.10M351.60,581.30l254.34,-185.10M355.20,581.30l254.34,-185.10M358.80,581.30l254.34,-185.10M362.40,581.30l254.34,-185.10M366.00,581.30l254.34,-185.10M369.60,581.30l254.34,-185.10M373.20,581.30l254.34,-185.10M376.80,581.30l254.34,-185.10M380.40,581.30l254.34,-185.10M384.00,581.30l254.34,-185.10M387.60,581.30l254.34,-185.10M391.20,581.30l254.34,-185.10M394.80,581.30l254.34,-185.10M398.40,581.30l254.34,-185.10M402.00,581.30l254.34,-185.10M405.60,581.30l254.34,-185.10M409.20,581.30l254.34,-185.10M412.80,581.30l254.34,-185.10M416.40,581.30l254.34,-185.10M420.00,581.30l254.34,-185.10M423.60,581.30l254.34,-185.10M427.20,581.30l254.34,-185.10M430.80,581.30l254.34,-185.10M434.40,581.30l254.34,-185.10M438.00,581.30l254.34,-185.10" stroke="#0c0c0c" stroke-width="1.2" fill="none"/>
<rect x="402.00" y="396.20" width="31.35" height="185.10" fill="none" stroke="#111" stroke-width="0.9"/>
<line x1="448.73" y1="497.30" x2="448.73" y2="502.30" stroke="#111" stroke-width="1"/>
<line x1="446.23" y1="497.30" x2="451.23" y2="497.30" stroke="#1a1a1a" stroke-width="0.9"/>
<rect x="433.35" y="502.30" width="31.35" height="79.00" fill="#cacaca"/>
<line x1="449.03" y1="581.30" x2="449.03" y2="502.30" stroke="#525252" stroke-width="31.35" stroke-dasharray="0.72 0.58"/>
<rect x="433.35" y="502.30" width="31.35" height="79.00" fill="none" stroke="#111" stroke-width="0.9"/>
<line x1="480.08" y1="574.20" x2="480.08" y2="574.90" stroke="#111" stroke-width="1"/>
<line x1="478.08" y1="574.20" x2="482.08" y2="574.20" stroke="#1a1a1a" stroke-width="0.9"/>
<rect x="464.70" y="574.90" width="31.35" height="6.40" fill="#0a0a0a"/>
<text class="b" x="-0.2" y="399.4" font-size="24.8" stroke="#111" stroke-width="0.5">B</text>
<text class="s" transform="translate(14.0,537.6) rotate(-90)" font-size="17" textLength="98.8" lengthAdjust="spacingAndGlyphs" stroke="#111" stroke-width="0.3">% Cytotoxicity</text>
<text class="s" transform="translate(124.4,620.8) rotate(-90)" font-size="13.4" textLength="31.2" lengthAdjust="spacingAndGlyphs" stroke="#111" stroke-width="0.3">BLCL</text>
<text class="s" transform="translate(155.70,653.30) rotate(-90)" font-size="12.8" textLength="35.4" lengthAdjust="spacingAndGlyphs" stroke="#111" stroke-width="0.5">BLCL+</text>
<text class="s" transform="translate(157.70,615.50) rotate(-90)" font-size="14.5" stroke="#111" stroke-width="0.25">α</text>
<text class="s" transform="translate(155.50,605.90) rotate(-90)" font-size="11.2" textLength="16.6" lengthAdjust="spacingAndGlyphs" stroke="#111" stroke-width="0.3">DR</text>
<text class="s" transform="translate(187.40,653.30) rotate(-90)" font-size="12.8" textLength="35.4" lengthAdjust="spacingAndGlyphs" stroke="#111" stroke-width="0.5">BLCL+</text>
<text class="s" transform="translate(189.40,615.50) rotate(-90)" font-size="14.5" stroke="#111" stroke-width="0.25">α</text>
<text class="s" transform="translate(186.80,605.90) rotate(-90)" font-size="11.2" textLength="15.6" lengthAdjust="spacingAndGlyphs" stroke="#111" stroke-width="0.3">DP</text>
<text class="s" transform="translate(218.50,653.30) rotate(-90)" font-size="12.8" textLength="35.4" lengthAdjust="spacingAndGlyphs" stroke="#111" stroke-width="0.5">BLCL+</text>
<text class="s" transform="translate(220.50,615.50) rotate(-90)" font-size="14.5" stroke="#111" stroke-width="0.25">α</text>
<text class="s" transform="translate(218.30,605.90) rotate(-90)" font-size="11.2" textLength="16.6" lengthAdjust="spacingAndGlyphs" stroke="#111" stroke-width="0.3">DQ</text>
<text class="s" transform="translate(252.20,643.40) rotate(-90)" font-size="13.5" textLength="20.4" lengthAdjust="spacingAndGlyphs" stroke="#111" stroke-width="0.3">Allo</text>
<text class="s" transform="translate(252.20,619.60) rotate(-90)" font-size="13.5" textLength="30.5" lengthAdjust="spacingAndGlyphs" stroke="#111" stroke-width="0.3">BLCL</text>
<text class="s" transform="translate(357.9,620.8) rotate(-90)" font-size="13.4" textLength="31.2" lengthAdjust="spacingAndGlyphs" stroke="#111" stroke-width="0.3">BLCL</text>
<text class="s" transform="translate(390.40,653.30) rotate(-90)" font-size="12.8" textLength="35.4" lengthAdjust="spacingAndGlyphs" stroke="#111" stroke-width="0.5">BLCL+</text>
<text class="s" transform="translate(392.40,615.50) rotate(-90)" font-size="14.5" stroke="#111" stroke-width="0.25">α</text>
<text class="s" transform="translate(390.20,605.90) rotate(-90)" font-size="11.2" textLength="16.6" lengthAdjust="spacingAndGlyphs" stroke="#111" stroke-width="0.3">DR</text>
<text class="s" transform="translate(421.40,653.30) rotate(-90)" font-size="12.8" textLength="35.4" lengthAdjust="spacingAndGlyphs" stroke="#111" stroke-width="0.5">BLCL+</text>
<text class="s" transform="translate(423.40,615.50) rotate(-90)" font-size="14.5" stroke="#111" stroke-width="0.25">α</text>
<text class="s" transform="translate(420.90,605.90) rotate(-90)" font-size="11.2" textLength="15.6" lengthAdjust="spacingAndGlyphs" stroke="#111" stroke-width="0.3">DP</text>
<text class="s" transform="translate(455.70,653.30) rotate(-90)" font-size="12.8" textLength="35.4" lengthAdjust="spacingAndGlyphs" stroke="#111" stroke-width="0.5">BLCL+</text>
<text class="s" transform="translate(457.70,615.50) rotate(-90)" font-size="14.5" stroke="#111" stroke-width="0.25">α</text>
<text class="s" transform="translate(455.50,605.90) rotate(-90)" font-size="11.2" textLength="16.6" lengthAdjust="spacingAndGlyphs" stroke="#111" stroke-width="0.3">DQ</text>
<text class="s" transform="translate(485.20,643.40) rotate(-90)" font-size="13.5" textLength="20.4" lengthAdjust="spacingAndGlyphs" stroke="#111" stroke-width="0.3">Allo</text>
<text class="s" transform="translate(485.20,619.60) rotate(-90)" font-size="13.5" textLength="30.5" lengthAdjust="spacingAndGlyphs" stroke="#111" stroke-width="0.3">BLCL</text>
<line x1="99" y1="664.9" x2="250.5" y2="664.9" stroke="#111" stroke-width="1.8"/>
<line x1="341.5" y1="664.7" x2="488" y2="664.7" stroke="#111" stroke-width="1.8"/>
<text class="b" x="168.4" y="682.8" font-size="11.2" text-anchor="middle" stroke="#111" stroke-width="0.4" textLength="38.7" lengthAdjust="spacingAndGlyphs">ND-R4</text>
<text class="b" x="410.2" y="682.6" font-size="11.2" text-anchor="middle" stroke="#111" stroke-width="0.4" textLength="35.8" lengthAdjust="spacingAndGlyphs">TD-B4</text>
</svg></body></html>
